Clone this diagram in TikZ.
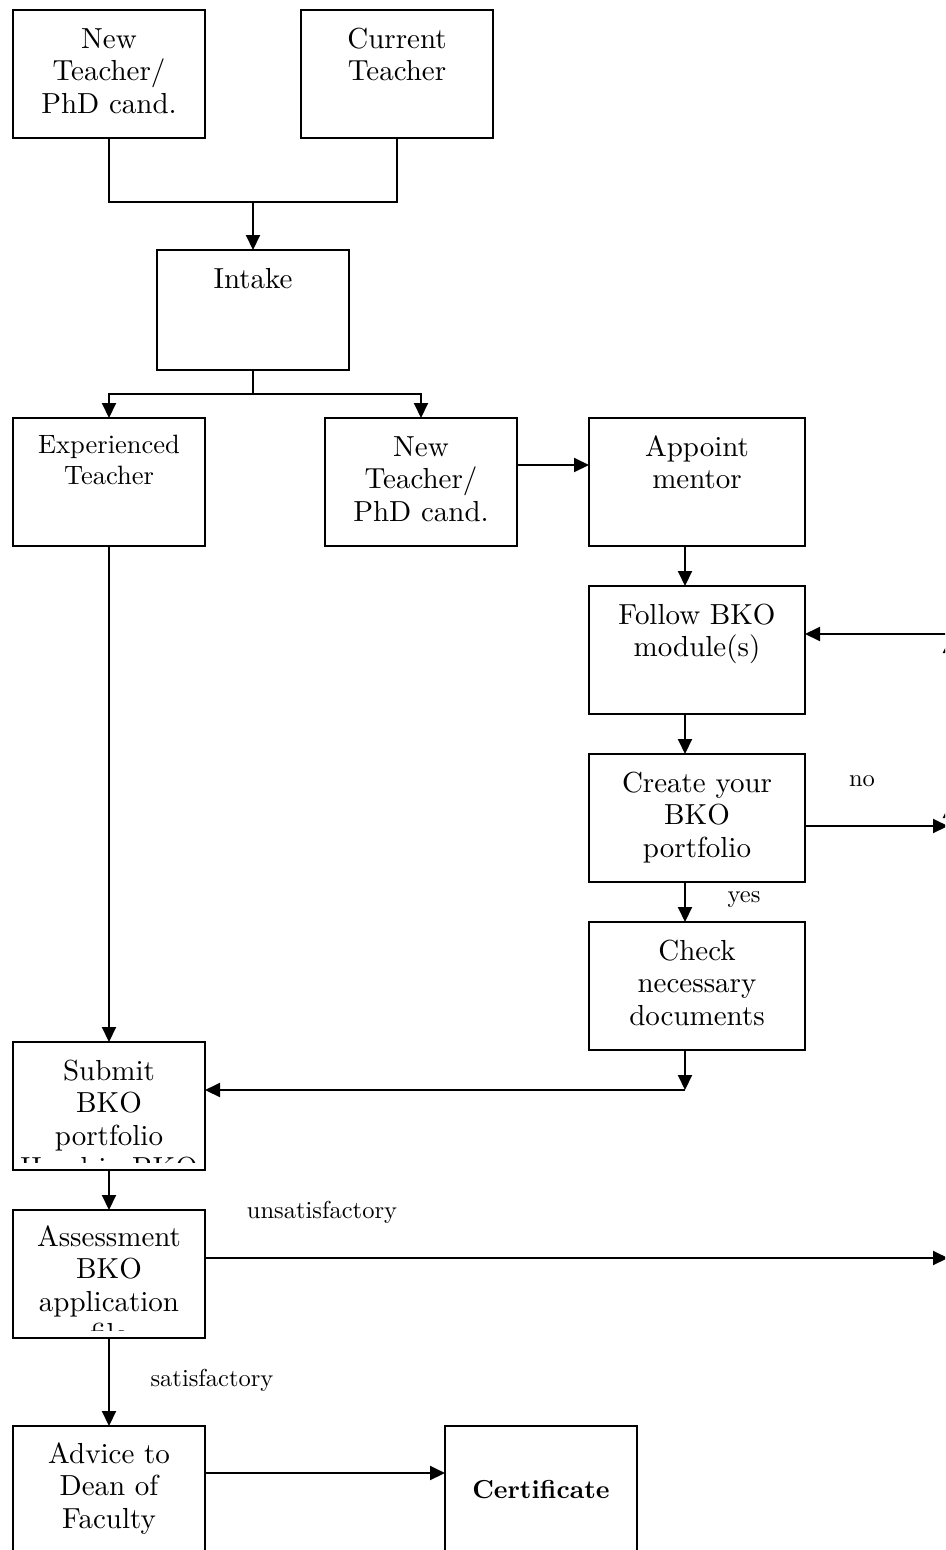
\documentclass[tikz,border=0pt]{standalone}
\usepackage{fontspec}
\setmainfont{lmroman10-regular.otf}[BoldFont=lmroman10-bold.otf]
\usetikzlibrary{arrows.meta,calc}
\newcommand\bigtxt{\fontsize{29}{32.5}\selectfont}
\newcommand\midtxt{\fontsize{26.5}{31}\selectfont}
\newcommand\lbltxt{\fontsize{24.5}{28}\selectfont}
\begin{document}
\begin{tikzpicture}[x=1pt,y=-1pt,
  box/.style={draw,line width=2pt,inner sep=0pt,outer sep=0pt,anchor=north west},
  txt/.style={anchor=north,inner sep=0pt,align=center,font=\bigtxt},
  lbl/.style={anchor=base,inner sep=0pt,font=\lbltxt},
  ln/.style={line width=2pt},
  arr/.style={line width=2pt,-{Triangle[length=15pt,width=14pt]}}]
\useasboundingbox (0,0) rectangle (945,1550);
\clip (0,0) rectangle (945,1550);
\fill[white] (0,0) rectangle (945,1550);

% boxes
\node[box,minimum width=192pt,minimum height=128pt] (newt) at (13,10) {};
\node[box,minimum width=192pt,minimum height=128pt] (curt) at (301,10) {};
\node[box,minimum width=192pt,minimum height=120pt] (intake) at (157,250) {};
\node[box,minimum width=192pt,minimum height=128pt] (exp) at (13,418) {};
\node[box,minimum width=192pt,minimum height=128pt] (newt2) at (325,418) {};
\node[box,minimum width=216pt,minimum height=128pt] (appoint) at (589,418) {};
\node[box,minimum width=216pt,minimum height=128pt] (follow) at (589,586) {};
\node[box,minimum width=216pt,minimum height=128pt] (create) at (589,754) {};
\node[box,minimum width=216pt,minimum height=128pt] (check) at (589,922) {};
\node[box,minimum width=192pt,minimum height=128pt] (submit) at (13,1042) {};
\node[box,minimum width=192pt,minimum height=128pt] (assess) at (13,1210) {};
\node[box,minimum width=192pt,minimum height=128pt] (advice) at (13,1426) {};
\node[box,minimum width=192pt,minimum height=128pt] (cert) at (445,1426) {};

% texts
\node[txt] (newtT) at ($(newt.north)+(0,15.25)$) {\strut New\\Teacher/\\PhD cand.};
\node[txt] (curtT) at ($(curt.north)+(0,15.25)$) {\strut Current\\Teacher};
\node[txt] (intakeT) at ($(intake.north)+(0,15.25)$) {\strut Intake};
\node[txt,font=\midtxt] (expT) at ($(exp.north)+(0,13.3)$) {\strut Experienced\\Teacher};
\node[txt] (newt2T) at ($(newt2.north)+(0,15.25)$) {\strut New\\Teacher/\\PhD cand.};
\node[txt] (appointT) at ($(appoint.north)+(0,15.25)$) {\strut Appoint\\mentor};
\node[txt] (followT) at ($(follow.north)+(0,15.25)$) {\strut Follow BKO\\module(s)};
\node[txt] (createT) at ($(create.north)+(0,15.25)$) {\strut Create your\\BKO\\portfolio};
\node[txt] (checkT) at ($(check.north)+(0,15.25)$) {\strut Check\\necessary\\documents};
\begin{scope}
\clip (15,1044) rectangle (203,1162);
\node[txt] (submitT) at ($(submit.north)+(0,15.25)$) {\strut Submit\\BKO\\portfolio\\Hand in BKO};
\end{scope}
\begin{scope}
\clip (15,1212) rectangle (203,1330);
\node[txt] (assessT) at ($(assess.north)+(0,13.5)$) {\strut Assessment\\BKO\\application\\file};
\end{scope}
\node[txt] (adviceT) at ($(advice.north)+(0,14.5)$) {\strut Advice to\\Dean of\\Faculty};
\node[anchor=base,inner sep=0pt,font=\fontsize{26}{30}\selectfont\bfseries] (certT) at (541,1498) {Certificate};

% labels
\node[lbl] (lno) at (862,786) {no};
\node[lbl] (lyes) at (744,902) {yes};
\node[lbl] (lunsat) at (322,1218) {unsatisfactory};
\node[lbl] (lsat) at (212,1386) {satisfactory};

% connectors
\coordinate (j1) at ($(intake.north)+(0,-48)$);
\draw[ln] (newt.south) |- (j1) -| (curt.south);
\draw[arr] (j1) -- (intake.north);
\coordinate (j2) at ($(intake.south)+(0,24)$);
\draw[ln] (intake.south) -- (j2);
\draw[arr] (j2) -| (exp.north);
\draw[arr] (j2) -| (newt2.north);
\coordinate (a1) at ($(newt2.east)+(0,-17)$);
\draw[arr] (a1) -- (a1 -| appoint.west);
\coordinate (a2) at ($(appoint.south)+(-12,0)$);
\draw[arr] (a2) -- (a2 |- follow.north);
\coordinate (a3) at ($(follow.south)+(-12,0)$);
\draw[arr] (a3) -- (a3 |- create.north);
\coordinate (a4) at ($(create.south)+(-12,0)$);
\draw[arr] (a4) -- (a4 |- check.north);
\coordinate (a5) at ($(check.south)+(-12,0)$);
\coordinate (j3) at ($(a5)+(0,40)$);
\draw[arr] (a5) -- (j3);
\draw[arr] (j3) -- (j3 -| submit.east);
\draw[arr] (exp.south) -- (submit.north);
\draw[arr] (submit.south) -- (assess.north);
\draw[arr] (assess.south) -- (advice.north);
\coordinate (a6) at ($(advice.east)+(0,-17)$);
\draw[arr] (a6) -- (a6 -| cert.west);

% connectors leaving the right edge
\coordinate (a7) at ($(assess.east)+(0,-16)$);
\coordinate (xU) at (948,1258);
\coordinate (a8) at ($(create.east)+(0,8)$);
\coordinate (xN) at (948,826);
\coordinate (xR) at (952,634);
\coordinate (vB1) at (950,1258);
\coordinate (vT1) at (950,803);
\coordinate (vB2) at (950,826);
\coordinate (vT2) at (950,638);
\draw[arr] (a7) -- (a7 -| xU);
\draw[arr] (a8) -- (a8 -| xN);
\draw[arr] (xR) -- (xR -| follow.east);
\draw[arr] (vB1) -- (vT1);
\draw[arr] (vB2) -- (vT2);
\end{tikzpicture}
\end{document}
